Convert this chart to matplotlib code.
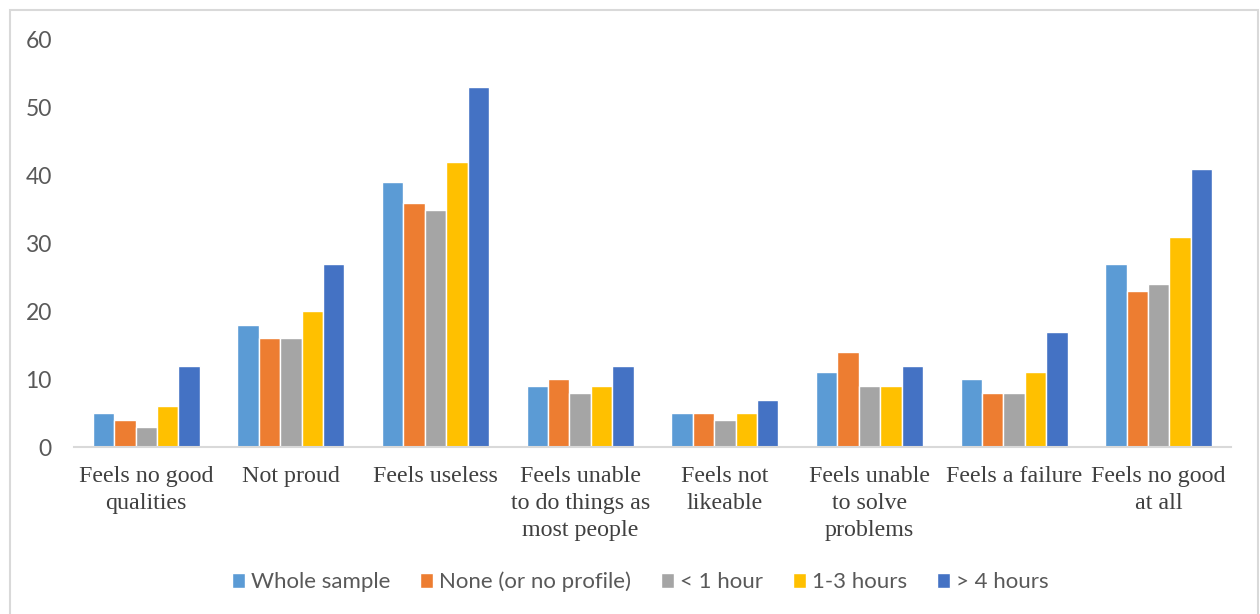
import matplotlib.pyplot as plt
import numpy as np
from matplotlib.patches import Rectangle

categories = ['Feels no good\nqualities', 'Not proud', 'Feels useless',
              'Feels unable\nto do things as\nmost people', 'Feels not\nlikeable',
              'Feels unable\nto solve\nproblems', 'Feels a failure', 'Feels no good\nat all']
series_names = ['Whole sample', 'None (or no profile)', '< 1 hour', '1-3 hours', '> 4 hours']
whole_sample = [5, 18, 39, 9, 5, 11, 10, 27]
none_profile = [4, 16, 36, 10, 5, 14, 8, 23]
under_1h = [3, 16, 35, 8, 4, 9, 8, 24]
h1_3 = [6, 20, 42, 9, 5, 9, 11, 31]
over_4h = [12, 27, 53, 12, 7, 12, 17, 41]
colors = ['#5B9BD5', '#ED7D31', '#A5A5A5', '#FFC000', '#4472C4']

values = [whole_sample, none_profile, under_1h, h1_3, over_4h]

W, H = 1260, 614
fig = plt.figure(figsize=(W / 100, H / 100), dpi=100)
fig.patches.append(Rectangle((10 / W, -0.01), (1248 / W), 1 - 10 / H + 0.01,
                             transform=fig.transFigure, fill=False,
                             edgecolor='#D9D9D9', linewidth=1.5))

ax = fig.add_axes([74 / W, 1 - 447 / H, (1231 - 74) / W, (447 - 40) / H])
x = np.arange(len(categories))
bw = 0.148
for i, (name, vals, c) in enumerate(zip(series_names, values, colors)):
    ax.bar(x + (i - 2) * bw, vals, width=bw, color=c, edgecolor='white',
           linewidth=1.0, label=name)

ax.set_xlim(-0.5, len(categories) - 0.5)
ax.set_ylim(0, 60)
ax.set_yticks(range(0, 61, 10))
ax.tick_params(axis='y', length=0, pad=16, labelsize=16.5, labelcolor='#595959')
for lab in ax.get_yticklabels():
    lab.set_family('Lato')
ax.set_xticks(x)
ax.set_xticklabels(categories, family='Liberation Serif', fontsize=17.3,
                   color='#404040', linespacing=1.35)
ax.tick_params(axis='x', length=0, pad=14)
for s in ['top', 'right', 'left']:
    ax.spines[s].set_visible(False)
ax.spines['bottom'].set_color('#D9D9D9')
ax.spines['bottom'].set_linewidth(1.5)

fig.legend(loc='center', bbox_to_anchor=(640 / W, 1 - 582 / H), ncol=5,
           frameon=False, prop={'family': 'Lato', 'size': 16},
           labelcolor='#595959', handlelength=0.6, handleheight=0.6,
           handletextpad=0.25, columnspacing=1.35)

fig.savefig('out.png', dpi=100)
